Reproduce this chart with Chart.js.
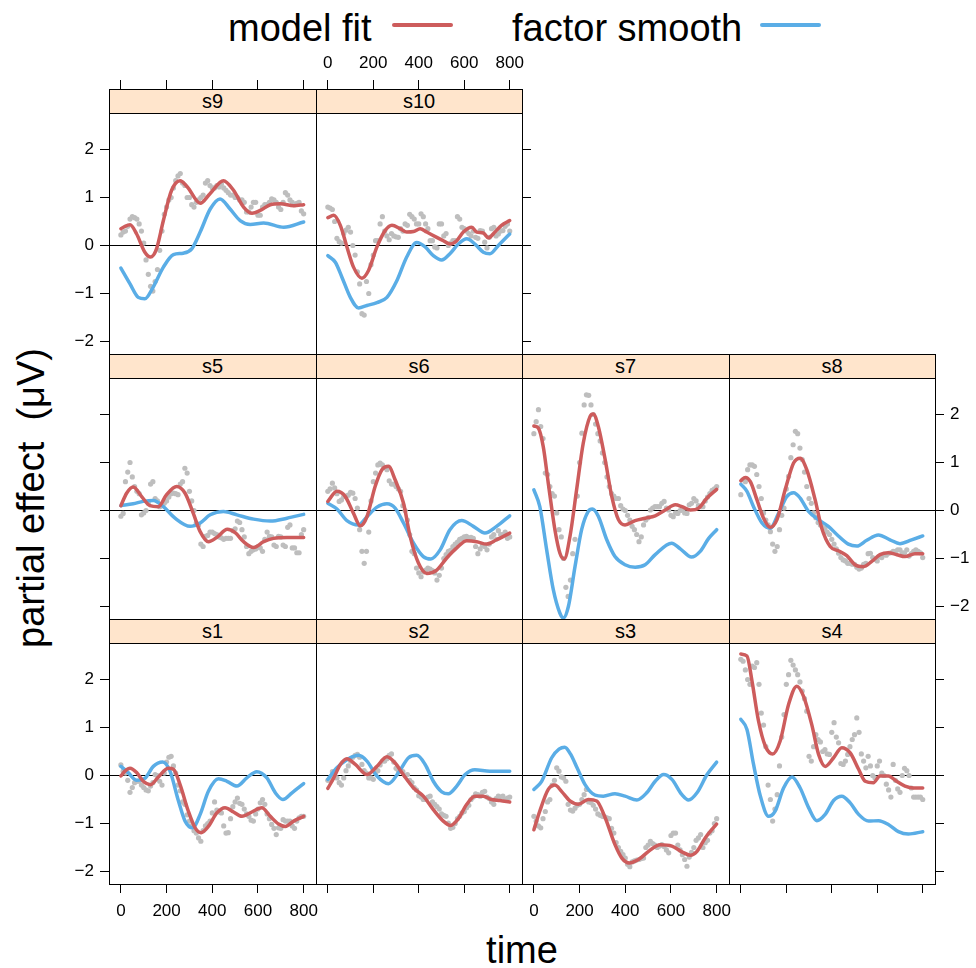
<!DOCTYPE html>
<html>
<head>
<meta charset="utf-8">
<script src="https://cdn.jsdelivr.net/npm/chart.js@4.4.1/dist/chart.umd.min.js"></script>
<style>
body { margin:0; background:#fff; width:976px; height:968px; position:relative; overflow:hidden; font-family:"Liberation Sans", Arial, sans-serif; }
canvas { position:absolute; }
.strip { position:absolute; box-sizing:border-box; background:#ffe5cc; border-bottom:1px solid #000; height:25px; text-align:center; font-size:20px; line-height:25px; color:#000; }
.big { position:absolute; font-size:38px; line-height:38px; white-space:pre; color:#000; }
.key { position:absolute; height:4px; border-radius:2px; }
</style>
</head>
<body>
<div class="big" style="left:228px;top:9px">model fit</div>
<div class="key" style="left:392px;top:23px;width:61px;background:#cd5c5c"></div>
<div class="big" style="left:512px;top:9px">factor smooth</div>
<div class="key" style="left:760px;top:23px;width:61px;background:#5aade6"></div>
<div class="big" style="left:-169px;top:479px;width:400px;text-align:center;transform:rotate(-90deg)">partial effect  (μV)</div>
<div class="big" style="left:322px;top:931px;width:400px;text-align:center">time</div>
<div id="plots"></div>
<script>
// time points of the grey observations (ms)
const dotTimes = [0,10,20,30,40,50,60,70,80,90,100,110,120,130,140,150,160,170,180,190,200,
  210,220,230,240,250,260,270,280,290,300,310,320,330,340,350,360,370,380,390,400,
  410,420,430,440,450,460,470,480,490,500,510,520,530,540,550,560,570,580,590,600,
  610,620,630,640,650,660,670,680,690,700,710,720,730,740,750,760,770,780,790,800];
const xTicks = [0,200,400,600,800];
const yTicks = [-2,-1,0,1,2];
const panelNames = ['s1','s2','s3','s4','s5','s6','s7','s8','s9','s10'];

// model fit [time, value]
const fit_s1 = [[0,-0.01],[18,0.09],[40,0.15],[69,0.06],[98,-0.12],[130,-0.19],[164,-0.03],[208,0.15],[230,0.13],[259,-0.19],[295,-0.74],[325,-1.09],[351,-1.19],[383,-1.06],[420,-0.78],[456,-0.67],[493,-0.76],[530,-0.85],[573,-0.76],[617,-0.67],[654,-0.85],[690,-1.01],[720,-1.06],[756,-0.95],[800,-0.85]];
const fit_s2 = [[0,-0.27],[26,-0.05],[55,0.23],[84,0.35],[121,0.23],[172,0.02],[216,0.19],[260,0.39],[296,0.26],[333,0.01],[377,-0.26],[420,-0.43],[464,-0.71],[508,-0.95],[540,-1.04],[574,-0.90],[611,-0.60],[647,-0.43],[684,-0.43],[720,-0.50],[757,-0.52],[800,-0.55]];
const fit_s3 = [[0,-1.13],[26,-0.74],[63,-0.29],[92,-0.20],[121,-0.33],[158,-0.53],[195,-0.60],[238,-0.50],[275,-0.53],[312,-0.88],[355,-1.44],[385,-1.72],[417,-1.82],[458,-1.75],[502,-1.58],[553,-1.44],[604,-1.47],[648,-1.59],[685,-1.66],[714,-1.58],[750,-1.30],[800,-1.01]];
const fit_s4 = [[0,2.53],[27,2.49],[49,1.97],[78,1.13],[108,0.61],[140,0.45],[173,0.72],[210,1.48],[246,1.86],[276,1.65],[312,1.06],[342,0.44],[371,0.19],[408,0.37],[444,0.58],[481,0.47],[518,0.13],[547,-0.12],[583,-0.15],[612,-0.01],[649,-0.01],[685,-0.12],[722,-0.22],[759,-0.26],[800,-0.26]];
const fit_s5 = [[0,0.10],[25,0.36],[54,0.49],[91,0.29],[127,0.10],[164,0.08],[200,0.33],[244,0.50],[281,0.36],[317,-0.06],[347,-0.44],[383,-0.65],[420,-0.56],[466,-0.39],[500,-0.46],[537,-0.65],[581,-0.77],[625,-0.65],[668,-0.58],[727,-0.56],[800,-0.56]];
const fit_s6 = [[0,0.19],[40,0.40],[77,0.29],[113,-0.06],[143,-0.32],[172,-0.13],[208,0.50],[238,0.85],[267,0.92],[296,0.64],[333,0.15],[362,-0.54],[399,-1.10],[435,-1.31],[479,-1.24],[523,-0.99],[567,-0.78],[611,-0.63],[655,-0.65],[698,-0.70],[742,-0.61],[800,-0.47]];
const fit_s7 = [[0,1.76],[19,1.72],[41,1.33],[63,0.57],[92,-0.40],[114,-0.89],[133,-1.01],[158,-0.54],[187,0.43],[216,1.40],[246,1.96],[260,2.01],[282,1.75],[312,1.06],[341,0.29],[370,-0.19],[399,-0.30],[443,-0.21],[487,-0.16],[531,-0.11],[575,0.01],[619,0.12],[648,0.08],[685,0.01],[721,0.05],[758,0.26],[800,0.44]];
const fit_s8 = [[0,0.62],[20,0.69],[42,0.60],[71,0.22],[100,-0.16],[129,-0.35],[159,-0.19],[195,0.43],[232,0.99],[261,1.09],[290,0.85],[327,0.22],[356,-0.37],[393,-0.75],[429,-0.84],[466,-0.94],[502,-1.13],[539,-1.17],[576,-1.06],[612,-0.92],[649,-0.88],[686,-0.92],[722,-0.96],[766,-0.90],[800,-0.90]];
const fit_s9 = [[0,0.35],[18,0.40],[40,0.43],[69,0.24],[105,-0.14],[130,-0.24],[156,-0.07],[186,0.52],[222,1.15],[259,1.35],[291,1.22],[347,0.88],[390,1.08],[449,1.35],[493,1.15],[537,0.80],[574,0.67],[610,0.73],[654,0.85],[698,0.87],[757,0.83],[800,0.85]];
const fit_s10 = [[0,0.58],[26,0.63],[55,0.42],[84,-0.03],[113,-0.45],[150,-0.68],[179,-0.52],[216,-0.03],[252,0.31],[282,0.42],[318,0.35],[347,0.28],[377,0.29],[406,0.35],[435,0.28],[479,0.17],[508,0.10],[537,0.03],[567,0.10],[596,0.28],[633,0.38],[655,0.28],[684,0.26],[706,0.16],[735,0.28],[764,0.42],[800,0.52]];

// factor smooth [time, value]
const smooth_s1 = [[0,0.19],[32,0.06],[69,-0.10],[105,-0.06],[142,0.19],[183,0.28],[215,0.09],[252,-0.53],[281,-0.95],[314,-1.09],[347,-0.81],[383,-0.33],[427,-0.07],[464,-0.12],[508,-0.22],[551,-0.05],[595,0.08],[639,-0.05],[676,-0.36],[709,-0.50],[749,-0.36],[800,-0.17]];
const smooth_s2 = [[0,-0.08],[40,0.16],[84,0.33],[135,0.42],[172,0.30],[216,-0.01],[267,-0.17],[311,0.06],[355,0.37],[391,0.42],[428,0.23],[464,-0.12],[501,-0.34],[530,-0.38],[567,-0.22],[604,0.02],[647,0.12],[713,0.09],[800,0.09]];
const smooth_s3 = [[0,-0.29],[34,-0.12],[78,0.37],[110,0.55],[135,0.59],[160,0.45],[190,0.15],[224,-0.19],[268,-0.41],[304,-0.43],[355,-0.38],[399,-0.43],[451,-0.51],[494,-0.36],[531,-0.12],[568,0.02],[604,-0.08],[648,-0.40],[677,-0.51],[714,-0.36],[758,0.02],[800,0.28]];
const smooth_s4 = [[0,1.17],[27,0.96],[56,0.23],[86,-0.43],[122,-0.85],[151,-0.74],[188,-0.26],[225,-0.03],[261,-0.26],[298,-0.67],[334,-0.94],[371,-0.81],[408,-0.52],[444,-0.43],[481,-0.57],[518,-0.81],[562,-0.95],[606,-0.94],[649,-1.02],[693,-1.17],[737,-1.22],[800,-1.17]];
const smooth_s5 = [[0,0.10],[54,0.14],[98,0.19],[142,0.21],[186,0.08],[237,-0.16],[303,-0.33],[347,-0.26],[391,-0.09],[449,-0.02],[508,-0.09],[581,-0.18],[654,-0.22],[727,-0.16],[800,-0.08]];
const smooth_s6 = [[0,0.15],[40,0.03],[84,-0.21],[135,-0.30],[172,-0.13],[216,0.07],[260,0.14],[296,0.05],[333,-0.26],[377,-0.68],[420,-0.96],[453,-1.01],[494,-0.82],[537,-0.40],[589,-0.21],[640,-0.33],[691,-0.47],[742,-0.33],[800,-0.11]];
const smooth_s7 = [[0,0.43],[26,0.08],[56,-0.82],[85,-1.65],[114,-2.14],[129,-2.24],[151,-2.0],[180,-1.17],[209,-0.40],[238,-0.02],[256,0.03],[282,-0.12],[319,-0.61],[355,-0.96],[399,-1.13],[443,-1.18],[487,-1.13],[531,-0.92],[603,-0.68],[641,-0.80],[690,-0.97],[728,-0.85],[765,-0.58],[800,-0.40]];
const smooth_s8 = [[0,0.55],[27,0.40],[56,0.08],[93,-0.26],[129,-0.37],[166,-0.06],[202,0.29],[232,0.37],[261,0.26],[298,-0.02],[341,-0.19],[385,-0.33],[429,-0.53],[473,-0.70],[510,-0.74],[554,-0.62],[605,-0.51],[656,-0.61],[700,-0.69],[751,-0.61],[800,-0.53]];
const smooth_s9 = [[0,-0.47],[40,-0.80],[76,-1.08],[105,-1.11],[141,-0.87],[186,-0.45],[230,-0.19],[273,-0.16],[310,-0.07],[347,0.28],[391,0.76],[434,0.97],[478,0.76],[522,0.52],[566,0.44],[625,0.47],[713,0.38],[800,0.49]];
const smooth_s10 = [[0,-0.21],[33,-0.35],[62,-0.66],[99,-1.08],[135,-1.30],[172,-1.25],[216,-1.19],[260,-1.08],[304,-0.73],[347,-0.24],[391,0.06],[428,-0.03],[464,-0.21],[501,-0.30],[537,-0.17],[574,0.03],[611,0.14],[647,0.03],[684,-0.14],[713,-0.17],[750,0],[800,0.24]];

// grey observations at dotTimes
const dots_s1 = [0.22,0.09,0.05,-0.1,-0.35,-0.25,-0.15,-0.12,-0.12,-0.2,-0.25,-0.3,-0.32,-0.22,-0.15,0.02,0.0,-0.12,-0.2,0.05,
  0.28,0.38,0.4,0.2,0.05,-0.2,-0.32,-0.55,-0.6,-0.82,-0.95,-1.05,-1.15,-1.2,-1.3,-1.37,-1.15,-1.05,-1.0,-0.95,
  -0.78,-0.55,-0.72,-0.76,-0.78,-1.05,-1.2,-1.19,-0.9,-0.65,-0.55,-0.47,-0.58,-0.6,-0.7,-0.8,-0.85,-0.93,-0.95,-0.8,
  -0.7,-0.57,-0.5,-0.6,-0.8,-0.9,-1.02,-1.1,-1.23,-1.09,-1.1,-0.92,-0.95,-0.95,-0.95,-1.05,-1.1,-0.95,-0.88,-0.85,-0.85];
const dots_s2 = [-0.1,-0.05,0.08,0.0,-0.05,-0.15,-0.2,-0.05,0.1,0.2,0.3,0.38,0.42,0.44,0.38,0.23,0.1,0.05,-0.05,-0.05,
  -0.08,0.05,0.1,0.22,0.3,0.3,0.35,0.42,0.45,0.28,0.15,0.1,0.1,0.08,0.0,0.02,-0.1,-0.15,-0.25,-0.3,
  -0.42,-0.45,-0.5,-0.5,-0.45,-0.43,-0.55,-0.6,-0.65,-0.7,-0.8,-0.83,-0.85,-0.99,-1.1,-1.08,-1.0,-0.9,-0.85,-0.78,
  -0.75,-0.67,-0.62,-0.5,-0.45,-0.38,-0.4,-0.43,-0.35,-0.33,-0.45,-0.48,-0.55,-0.6,-0.48,-0.43,-0.45,-0.43,-0.5,-0.47,-0.45];
const dots_s3 = [-0.85,-0.95,-1.05,-1.09,-0.9,-0.75,-0.55,-0.5,-0.2,-0.1,0.16,0.09,-0.03,-0.05,-0.12,-0.6,-0.72,-0.74,-0.68,-0.62,
  -0.6,-0.5,-0.4,-0.29,-0.55,-0.56,-0.62,-0.7,-0.8,-0.83,-0.85,-0.86,-0.88,-0.9,-1.1,-1.2,-1.4,-1.5,-1.58,-1.65,
  -1.72,-1.85,-1.9,-1.8,-1.78,-1.76,-1.75,-1.73,-1.72,-1.5,-1.45,-1.37,-1.42,-1.45,-1.5,-1.47,-1.44,-1.48,-1.55,-1.61,
  -1.25,-1.2,-1.2,-1.45,-1.55,-1.65,-1.75,-1.89,-1.7,-1.6,-1.5,-1.35,-1.3,-1.23,-1.5,-1.4,-1.35,-1.2,-1.15,-1.0,-0.9];
const dots_s4 = [2.42,2.38,2.2,2.0,1.9,2.28,2.25,2.35,1.9,1.3,1.05,0.6,-0.2,-0.5,-0.95,-0.7,-0.4,0.2,0.8,1.27,
  1.9,2.1,2.4,2.3,2.2,2.1,1.95,1.76,1.6,1.34,0.4,0.3,0.6,0.85,0.75,0.7,0.5,0.54,0.45,0.44,
  0.9,1.1,0.8,0.68,0.25,0.23,0.3,0.44,0.6,0.75,0.85,1.2,0.9,0.45,0.3,0.16,0.4,0.2,0.0,-0.05,
  0.2,0.3,0.05,0.0,-0.18,-0.3,-0.45,0.23,-0.1,-0.28,-0.35,0.0,0.15,0.1,0.0,-0.26,-0.45,-0.45,-0.45,-0.45,-0.5];
const dots_s5 = [-0.12,-0.06,0.6,0.8,1.0,0.7,0.5,0.4,0.35,-0.09,-0.05,0.0,0.15,0.55,0.6,0.25,0.2,0.08,0.1,0.15,
  0.2,0.28,0.35,0.36,0.35,0.33,0.55,0.6,0.88,0.78,0.4,0.2,0.0,-0.26,-0.3,-0.7,-0.75,-0.54,-0.52,-0.45,
  -0.45,-0.48,-0.5,-0.55,-0.57,-0.6,-0.58,-0.58,-0.58,-0.42,-0.38,-0.22,-0.25,-0.4,-0.55,-0.75,-0.9,-0.85,-0.82,-0.8,
  -0.75,-0.78,-0.85,-0.6,-0.45,-0.54,-0.55,-0.72,-0.75,-0.54,-0.55,-0.72,-0.75,-0.35,-0.3,-0.78,-0.78,-0.88,-0.88,-0.5,-0.4];
const dots_s6 = [0.4,0.45,0.57,0.47,0.35,0.19,0.22,0.29,0.3,0.32,0.38,0.36,0.25,0.05,-0.4,-0.85,-1.1,-0.85,-0.45,0.2,
  0.6,0.78,0.95,0.99,0.95,0.9,0.85,0.62,0.55,0.55,0.5,0.45,0.4,0.1,0.0,-0.2,-0.5,-0.85,-0.9,-1.2,
  -1.3,-1.38,-1.28,-1.24,-1.2,-1.22,-1.25,-1.3,-1.45,-1.35,-1.2,-1.0,-0.92,-0.85,-0.83,-0.75,-0.7,-0.66,-0.6,-0.58,
  -0.55,-0.54,-0.57,-0.56,-0.58,-0.75,-0.9,-0.8,-0.72,-0.75,-0.82,-0.7,-0.55,-0.5,-0.6,-0.42,-0.5,-0.5,-0.45,-0.58,-0.55];
const dots_s7 = [1.6,1.85,2.1,1.75,1.5,0.78,0.75,0.5,0.35,0.3,-0.05,-0.4,-0.55,-1.0,-1.6,-1.79,-1.45,-0.9,-0.6,0.3,
  1.0,1.61,2.2,2.41,2.4,2.2,2.0,1.8,1.6,1.45,1.2,1.0,0.7,0.5,0.35,0.3,0.25,0.25,0.1,0.03,
  0.0,-0.1,-0.2,-0.33,-0.4,-0.5,-0.65,-0.55,-0.3,-0.2,-0.15,0.01,0.05,0.08,0.08,0.08,0.15,0.19,0.05,0.01,
  -0.1,-0.13,-0.05,-0.06,0.0,0.01,-0.05,-0.06,0.12,0.15,0.25,0.2,0.1,0.08,0.08,0.2,0.28,0.35,0.42,0.45,0.5];
const dots_s8 = [0.33,0.64,0.6,0.85,0.95,0.95,0.92,0.75,0.5,0.25,-0.05,-0.2,-0.3,-0.44,-0.7,-0.85,-0.75,-0.4,-0.1,0.05,
  0.45,0.71,1.1,1.37,1.65,1.6,1.3,1.06,0.8,0.5,0.25,0.15,-0.05,-0.15,-0.25,-0.3,-0.35,-0.37,-0.45,-0.5,
  -0.6,-0.7,-0.8,-0.89,-0.98,-1.03,-1.05,-1.1,-1.1,-1.12,-1.12,-1.18,-1.22,-1.2,-1.12,-1.1,-0.9,-0.89,-0.98,-1.02,
  -1.05,-0.96,-0.98,-0.92,-0.93,-0.89,-0.88,-0.85,-0.85,-0.82,-0.82,-0.88,-0.88,-0.82,-0.95,-0.9,-0.85,-0.82,-0.85,-0.88,-0.98];
const dots_s9 = [0.22,0.28,0.30,0.4,0.55,0.6,0.58,0.55,0.45,0.3,0.05,-0.3,-0.6,-0.85,-0.95,-0.75,-0.5,-0.1,0.3,0.65,
  0.8,0.95,1.0,1.2,1.35,1.45,1.5,1.3,1.25,1.0,1.0,0.85,0.8,0.9,0.95,1.0,1.05,1.3,1.35,1.25,
  1.2,1.2,1.25,1.22,1.28,1.2,1.15,1.1,1.05,1.05,1.0,1.0,0.95,0.95,0.9,0.7,0.7,0.8,0.9,0.9,
  0.63,0.63,0.8,0.85,0.85,0.9,0.97,0.95,0.9,0.8,0.75,0.9,1.1,1.05,0.95,0.9,0.85,0.88,0.9,0.72,0.66];
const dots_s10 = [0.8,0.78,0.75,0.5,0.15,0.08,0.05,0.25,0.32,0.38,0.28,0.0,-0.2,-0.55,-0.8,-1.42,-1.45,-0.75,-1.0,-0.4,
  -0.2,0.1,0.1,0.45,0.6,0.3,0.2,0.12,0.25,0.2,0.18,0.17,0.35,0.3,0.45,0.42,0.65,0.6,0.55,0.45,
  0.45,0.66,0.6,0.45,0.35,0.1,0.1,-0.03,-0.05,0.45,0.45,0.2,0.25,0.0,0.05,0.1,0.1,0.6,0.55,0.38,
  0.35,0.3,0.25,0.2,0.3,0.17,0.15,0.31,0.3,0.07,-0.05,0.17,0.35,0.38,0.2,0.24,0.3,0.31,0.4,0.45,0.3];

const fits = {s1:fit_s1,s2:fit_s2,s3:fit_s3,s4:fit_s4,s5:fit_s5,s6:fit_s6,s7:fit_s7,s8:fit_s8,s9:fit_s9,s10:fit_s10};
const smooths = {s1:smooth_s1,s2:smooth_s2,s3:smooth_s3,s4:smooth_s4,s5:smooth_s5,s6:smooth_s6,s7:smooth_s7,s8:smooth_s8,s9:smooth_s9,s10:smooth_s10};
const dots = {s1:dots_s1,s2:dots_s2,s3:dots_s3,s4:dots_s4,s5:dots_s5,s6:dots_s6,s7:dots_s7,s8:dots_s8,s9:dots_s9,s10:dots_s10};

// page layout (pixels)
const colLeft = [109, 316, 522, 729];
const colWidth = [207, 206, 207, 206];
const rowTop = [89, 354, 619];      // top of strip, row 0 = top
const panelH = 265;                 // strip + plot
const M = 60;                       // canvas margin around the panel
const X_MIN = -52, X_MAX = 854;
const Y_MIN = -2.26, Y_MAX = 3.26;  // top 0.52 units are under the strip

const RED = '#cd5c5c', BLUE = '#5aade6', GREY = '#bebebe';
const tickFont = { family: 'Liberation Sans', size: 17 };
const fmt = v => v < 0 ? '\u2212' + Math.abs(v) : String(v);

function makeAxis(position, mode, min, max, vals, zeroLine) {
  const horiz = position === 'top' || position === 'bottom';
  return {
    type: 'linear', position, min, max,
    afterBuildTicks: s => { s.ticks = vals.map(v => ({ value: v })); },
    afterFit: s => { if (horiz) s.height = M; else s.width = M; },
    border: { display: true, color: '#000', width: 1 },
    grid: {
      drawOnChartArea: zeroLine,
      drawTicks: mode !== 'none',
      tickLength: 9,
      color: zeroLine ? (c => c.tick && c.tick.value === 0 ? '#000' : 'rgba(0,0,0,0)') : 'rgba(0,0,0,0)',
      tickColor: '#000',
      lineWidth: 1
    },
    ticks: { display: mode === 'labels', autoSkip: false, maxRotation: 0,
             padding: position === 'bottom' ? 8 : 6,
             color: '#000', font: tickFont, callback: fmt }
  };
}

const holder = document.getElementById('plots');

panelNames.forEach((name, i) => {
  const col = i % 4;
  const row = 2 - Math.floor(i / 4);
  const L = colLeft[col], W = colWidth[col], T = rowTop[row];

  const left = col === 0 ? (row === 1 ? 'ticks' : 'labels') : 'none';
  const right = ((row === 0 && col === 1) || (row > 0 && col === 3)) ? (row === 1 ? 'labels' : 'ticks') : 'none';
  const bottom = row === 2 ? (col % 2 === 0 ? 'labels' : 'ticks') : 'none';
  const top = row === 0 ? (col === 1 ? 'labels' : 'ticks') : 'none';

  const strip = document.createElement('div');
  strip.className = 'strip';
  strip.style.left = L + 'px';
  strip.style.top = T + 'px';
  strip.style.width = W + 'px';
  strip.textContent = name;
  holder.appendChild(strip);

  const cv = document.createElement('canvas');
  cv.width = W + 2 * M;
  cv.height = panelH + 2 * M;
  cv.style.left = (L - M) + 'px';
  cv.style.top = (T - M) + 'px';
  cv.style.width = cv.width + 'px';
  cv.style.height = cv.height + 'px';
  holder.appendChild(cv);

  new Chart(cv.getContext('2d'), {
    type: 'scatter',
    data: {
      datasets: [
        { data: fits[name].map(p => ({ x: p[0], y: p[1] })), showLine: true, borderColor: RED,
          borderWidth: 3.5, pointRadius: 0, cubicInterpolationMode: 'monotone', borderCapStyle: 'round' },
        { data: smooths[name].map(p => ({ x: p[0], y: p[1] })), showLine: true, borderColor: BLUE,
          borderWidth: 3.5, pointRadius: 0, cubicInterpolationMode: 'monotone', borderCapStyle: 'round' },
        { data: dotTimes.map((t, k) => ({ x: t, y: dots[name][k] })), showLine: false,
          pointRadius: 2.6, pointBorderWidth: 0, backgroundColor: GREY, borderColor: GREY }
      ]
    },
    options: {
      responsive: false,
      animation: false,
      events: [],
      layout: { padding: 0 },
      plugins: { legend: { display: false }, tooltip: { enabled: false } },
      scales: {
        x: makeAxis('bottom', bottom, X_MIN, X_MAX, xTicks, false),
        x2: makeAxis('top', top, X_MIN, X_MAX, xTicks, false),
        y: makeAxis('left', left, Y_MIN, Y_MAX, yTicks, true),
        y2: makeAxis('right', right, Y_MIN, Y_MAX, yTicks, false)
      }
    }
  });
});
</script>
</body>
</html>
